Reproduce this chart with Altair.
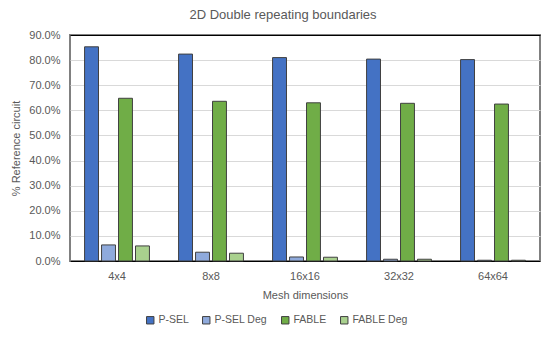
import altair as alt
import pandas as pd

categories = ["4x4", "8x8", "16x16", "32x32", "64x64"]
series = ["P-SEL", "P-SEL Deg", "FABLE", "FABLE Deg"]
p_sel = [0.853, 0.824, 0.810, 0.804, 0.802]
p_sel_deg = [0.064, 0.035, 0.016, 0.007, 0.003]
fable = [0.648, 0.636, 0.630, 0.628, 0.625]
fable_deg = [0.060, 0.031, 0.015, 0.007, 0.003]
colors = ["#4472C4", "#8FAADC", "#70AD47", "#A9D18E"]

rows = []
for s, vals in zip(series, [p_sel, p_sel_deg, fable, fable_deg]):
    for c, v in zip(categories, vals):
        rows.append({"Mesh": c, "Series": s, "Value": v})
df = pd.DataFrame(rows)

FONT = "Liberation Sans"
GRAY = "#595959"

chart = alt.Chart(df).mark_bar(stroke="#404040", strokeWidth=1).encode(
    x=alt.X("Mesh:N", sort=categories, title="Mesh dimensions",
            scale=alt.Scale(paddingInner=0.31, paddingOuter=0.155),
            axis=alt.Axis(labelAngle=0, ticks=False, domainColor="#000000",
                          labelPadding=9, titlePadding=8)),
    xOffset=alt.XOffset("Series:N", sort=series,
                        scale=alt.Scale(paddingInner=0.18, paddingOuter=0)),
    y=alt.Y("Value:Q", title="% Reference circuit",
            scale=alt.Scale(domain=[0, 0.9], nice=False),
            axis=alt.Axis(format=".1%", values=[i / 10 for i in range(10)],
                          ticks=False, domain=False, labelPadding=10, titlePadding=7,
                          gridColor={"condition": {"test": "datum.value >= 0.89", "value": "#000000"},
                                     "value": "#d9d9d9"})),
    color=alt.Color("Series:N", sort=series,
                    scale=alt.Scale(domain=series, range=colors),
                    legend=alt.Legend(title=None, orient="none", direction="horizontal",
                                      legendX=75, legendY=280, symbolType="square",
                                      symbolStrokeColor="#404040", symbolStrokeWidth=1,
                                      symbolSize=55, columnPadding=11, labelFontSize=10.5,
                                      labelOffset=3, labelColor=GRAY, labelFont=FONT)),
).properties(
    width=470, height=226,
    title=alt.TitleParams("2D Double repeating boundaries", fontSize=13, font=FONT,
                          color=GRAY, fontWeight="normal", anchor="middle", dx=-22, offset=7),
    autosize=alt.AutoSizeParams(type="none"),
    padding={"left": 62, "top": 27, "right": 1, "bottom": 72},
).configure_view(
    stroke="#808080", strokeWidth=2
).configure_axis(
    labelFont=FONT, titleFont=FONT, labelColor=GRAY, titleColor=GRAY,
    labelFontSize=11, titleFontSize=11, titleFontWeight="normal", gridWidth=1
)

chart.save("out.html", embed_options={"renderer": "svg", "actions": False})
